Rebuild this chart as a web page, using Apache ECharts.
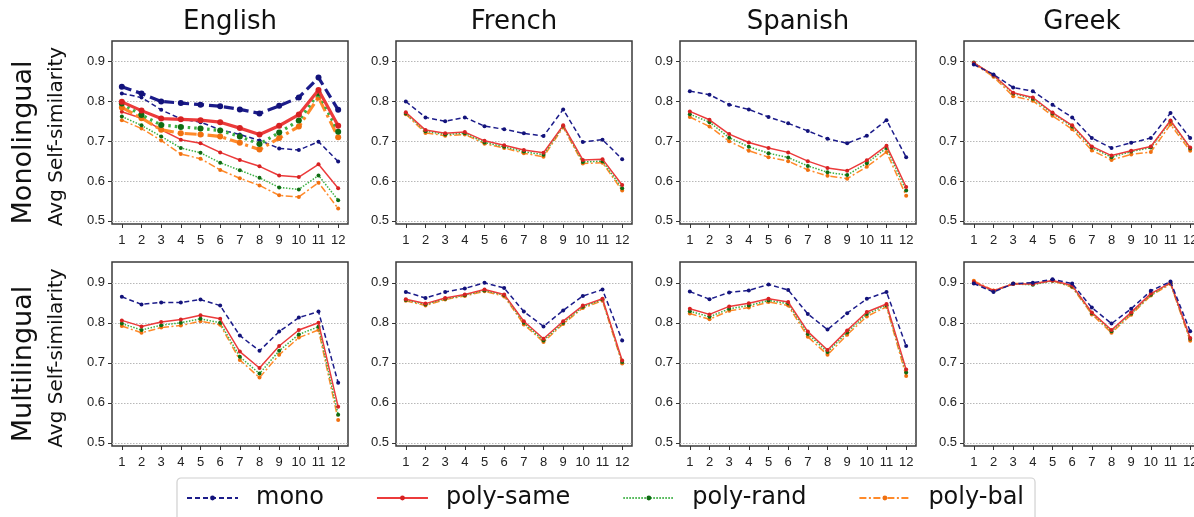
<!DOCTYPE html>
<html>
<head>
<meta charset="utf-8">
<script src="https://cdn.jsdelivr.net/npm/echarts@6/dist/echarts.min.js"></script>
<style>
html,body{margin:0;padding:0;background:#fff;}
#chart{width:1194px;height:517px;}
</style>
</head>
<body>
<div id="chart"></div>
<script>
// ---------- data ----------
const layers = ['1','2','3','4','5','6','7','8','9','10','11','12'];
const yTickValues = [0.5, 0.6, 0.7, 0.8, 0.9];
const languages = ['English', 'French', 'Spanish', 'Greek'];
const rowLabels = ['Monolingual', 'Multilingual'];
const yAxisTitle = 'Avg Self-similarity';
const seriesNames = ['mono', 'poly-same', 'poly-rand', 'poly-bal'];

// Monolingual row
const monoEnglish_mono     = [0.820,0.810,0.779,0.756,0.748,0.729,0.717,0.702,0.682,0.678,0.699,0.649];
const monoEnglish_polySame = [0.774,0.758,0.729,0.704,0.695,0.672,0.653,0.637,0.614,0.610,0.642,0.582];
const monoEnglish_polyRand = [0.762,0.740,0.712,0.683,0.671,0.646,0.627,0.608,0.584,0.579,0.614,0.552];
const monoEnglish_polyBal  = [0.753,0.732,0.702,0.668,0.656,0.628,0.607,0.589,0.564,0.560,0.596,0.531];
// English monolingual, second (bold) set of lines
const monoEnglishBold_mono     = [0.837,0.820,0.800,0.796,0.792,0.788,0.780,0.770,0.789,0.810,0.860,0.779];
const monoEnglishBold_polySame = [0.799,0.777,0.757,0.755,0.753,0.748,0.733,0.717,0.739,0.767,0.829,0.739];
const monoEnglishBold_polyRand = [0.795,0.766,0.741,0.736,0.732,0.727,0.712,0.693,0.722,0.752,0.821,0.724];
const monoEnglishBold_polyBal  = [0.785,0.758,0.729,0.720,0.717,0.712,0.696,0.679,0.708,0.737,0.810,0.710];

const monoFrench_mono     = [0.800,0.760,0.750,0.760,0.738,0.730,0.720,0.713,0.780,0.698,0.704,0.655];
const monoFrench_polySame = [0.773,0.728,0.720,0.723,0.701,0.690,0.678,0.671,0.740,0.653,0.655,0.590];
const monoFrench_polyRand = [0.770,0.725,0.717,0.720,0.697,0.686,0.674,0.666,0.738,0.648,0.650,0.582];
const monoFrench_polyBal  = [0.768,0.721,0.714,0.717,0.694,0.683,0.670,0.661,0.735,0.644,0.646,0.576];

const monoSpanish_mono     = [0.826,0.817,0.792,0.780,0.761,0.745,0.726,0.706,0.695,0.714,0.753,0.660];
const monoSpanish_polySame = [0.775,0.754,0.718,0.697,0.683,0.672,0.650,0.633,0.626,0.652,0.689,0.585];
const monoSpanish_polyRand = [0.768,0.748,0.709,0.686,0.670,0.659,0.638,0.622,0.615,0.645,0.683,0.576];
const monoSpanish_polyBal  = [0.761,0.737,0.700,0.676,0.660,0.650,0.628,0.613,0.606,0.636,0.673,0.563];

const monoGreek_mono     = [0.893,0.868,0.835,0.826,0.792,0.760,0.708,0.683,0.696,0.708,0.771,0.708];
const monoGreek_polySame = [0.897,0.866,0.822,0.810,0.772,0.740,0.687,0.664,0.676,0.687,0.752,0.684];
const monoGreek_polyRand = [0.898,0.865,0.820,0.807,0.770,0.737,0.684,0.660,0.674,0.684,0.750,0.682];
const monoGreek_polyBal  = [0.895,0.862,0.813,0.802,0.764,0.730,0.677,0.653,0.667,0.673,0.742,0.676];

// Multilingual row
const multiEnglish_mono     = [0.865,0.846,0.851,0.851,0.858,0.843,0.768,0.730,0.778,0.813,0.828,0.650];
const multiEnglish_polySame = [0.806,0.791,0.802,0.808,0.819,0.810,0.728,0.687,0.742,0.782,0.800,0.590];
const multiEnglish_polyRand = [0.798,0.782,0.794,0.800,0.810,0.800,0.715,0.673,0.730,0.771,0.790,0.570];
const multiEnglish_polyBal  = [0.792,0.775,0.788,0.793,0.804,0.795,0.707,0.663,0.720,0.763,0.782,0.557];

const multiFrench_mono     = [0.877,0.862,0.877,0.886,0.900,0.887,0.828,0.791,0.831,0.867,0.883,0.756];
const multiFrench_polySame = [0.859,0.848,0.862,0.871,0.883,0.871,0.804,0.760,0.804,0.843,0.860,0.706];
const multiFrench_polyRand = [0.857,0.846,0.860,0.869,0.881,0.869,0.800,0.756,0.800,0.840,0.858,0.702];
const multiFrench_polyBal  = [0.855,0.843,0.858,0.867,0.879,0.866,0.796,0.752,0.797,0.837,0.855,0.698];

const multiSpanish_mono     = [0.878,0.859,0.876,0.881,0.896,0.882,0.822,0.783,0.824,0.860,0.877,0.742];
const multiSpanish_polySame = [0.835,0.821,0.841,0.849,0.860,0.852,0.778,0.732,0.781,0.827,0.847,0.683];
const multiSpanish_polyRand = [0.829,0.815,0.835,0.843,0.856,0.848,0.772,0.727,0.776,0.822,0.844,0.676];
const multiSpanish_polyBal  = [0.823,0.809,0.830,0.838,0.852,0.843,0.765,0.720,0.770,0.816,0.840,0.667];

const multiGreek_mono     = [0.898,0.877,0.898,0.900,0.909,0.898,0.838,0.798,0.835,0.880,0.903,0.779];
const multiGreek_polySame = [0.902,0.880,0.897,0.897,0.906,0.893,0.826,0.782,0.826,0.873,0.900,0.762];
const multiGreek_polyRand = [0.900,0.879,0.897,0.895,0.905,0.891,0.824,0.779,0.823,0.870,0.899,0.760];
const multiGreek_polyBal  = [0.905,0.881,0.898,0.898,0.905,0.889,0.821,0.775,0.820,0.868,0.897,0.755];

// ---------- layout / style ----------
const panels = [
  [[monoEnglish_mono, monoEnglish_polySame, monoEnglish_polyRand, monoEnglish_polyBal],
   [monoFrench_mono, monoFrench_polySame, monoFrench_polyRand, monoFrench_polyBal],
   [monoSpanish_mono, monoSpanish_polySame, monoSpanish_polyRand, monoSpanish_polyBal],
   [monoGreek_mono, monoGreek_polySame, monoGreek_polyRand, monoGreek_polyBal]],
  [[multiEnglish_mono, multiEnglish_polySame, multiEnglish_polyRand, multiEnglish_polyBal],
   [multiFrench_mono, multiFrench_polySame, multiFrench_polyRand, multiFrench_polyBal],
   [multiSpanish_mono, multiSpanish_polySame, multiSpanish_polyRand, multiSpanish_polyBal],
   [multiGreek_mono, multiGreek_polySame, multiGreek_polyRand, multiGreek_polyBal]]
];
const boldEnglish = [monoEnglishBold_mono, monoEnglishBold_polySame, monoEnglishBold_polyRand, monoEnglishBold_polyBal];

const colLeft = [112, 396, 680, 964];
const plotW = 236;
const rowTop = [41, 262];
const plotH = [183, 184];

const styles = [
  {line: '#1c1c8a', sym: '#12127a', type: [5, 3]},
  {line: '#ec3b3b', sym: '#d62222', type: 'solid'},
  {line: '#3cb043', sym: '#0f6b12', type: [1.5, 1.5]},
  {line: '#ff8a2a', sym: '#f07010', type: [7, 2.5, 2, 2.5]}
];

const grids = [], xAxes = [], yAxes = [], series = [];
let gi = 0;
for (let r = 0; r < 2; r++) {
  for (let c = 0; c < 4; c++) {
    grids.push({left: colLeft[c], top: rowTop[r], width: plotW, height: plotH[r],
      outerBoundsMode: 'none', containLabel: false,
      show: true, borderColor: '#3a3a3a', borderWidth: 1.5, backgroundColor: 'transparent'});
    xAxes.push({type: 'category', gridIndex: gi, data: layers, boundaryGap: true,
      axisLine: {show: false},
      axisTick: {show: true, alignWithLabel: true, length: 4, lineStyle: {color: '#333'}},
      axisLabel: {color: '#222', fontSize: 13, fontFamily: 'Liberation Sans', margin: 10, interval: 0},
      splitLine: {show: false}});
    yAxes.push({type: 'value', gridIndex: gi, min: 0.492, max: 0.952,
      axisLine: {show: false},
      axisTick: {show: true, length: 4, customValues: yTickValues, lineStyle: {color: '#333'}},
      axisLabel: {color: '#222', fontSize: 13, fontFamily: 'Liberation Sans', margin: 7,
        customValues: yTickValues, formatter: v => v.toFixed(1)},
      splitLine: {show: true, lineStyle: {color: '#b8b8b8', type: [1.5, 1.5], width: 1}}});
    const sets = panels[r][c];
    for (let s = 0; s < 4; s++) {
      series.push({name: seriesNames[s], type: 'line', xAxisIndex: gi, yAxisIndex: gi,
        data: sets[s], symbol: 'circle', symbolSize: 4, showSymbol: true,
        lineStyle: {color: styles[s].line, width: 1.5, type: styles[s].type},
        itemStyle: {color: styles[s].sym, borderWidth: 0},
        z: 10 - s, silent: true});
    }
    gi++;
  }
}
// bold set in English monolingual panel
for (let s = 0; s < 4; s++) {
  series.push({name: seriesNames[s], type: 'line', xAxisIndex: 0, yAxisIndex: 0,
    data: boldEnglish[s], symbol: 'circle', symbolSize: 6,
    lineStyle: {color: styles[s].line, width: 3.2,
      type: s === 0 ? [10, 5] : s === 2 ? [2.5, 4] : s === 3 ? [12, 4, 3, 4] : 'solid'},
    itemStyle: {color: styles[s].sym, borderWidth: 0},
    z: 20 - s, silent: true});
}

const graphics = [];
languages.forEach((t, c) => {
  graphics.push({type: 'text', x: colLeft[c] + plotW / 2, y: 22,
    style: {text: t, font: '26px "DejaVu Sans"', fill: '#111', textAlign: 'center', textVerticalAlign: 'middle'}});
});
rowLabels.forEach((t, r) => {
  const cy = rowTop[r] + plotH[r] / 2;
  graphics.push({type: 'text', x: 24, y: cy + 10, rotation: Math.PI / 2,
    style: {text: t, font: '27px "DejaVu Sans"', fill: '#111', textAlign: 'center', textVerticalAlign: 'middle'}});
  graphics.push({type: 'text', x: 57, y: cy + 4, rotation: Math.PI / 2,
    style: {text: yAxisTitle, font: '20px "DejaVu Sans"', fill: '#111', textAlign: 'center', textVerticalAlign: 'middle'}});
});

const chart = echarts.init(document.getElementById('chart'), null, {renderer: 'canvas'});
chart.setOption({
  animation: false,
  backgroundColor: '#fff',
  grid: grids, xAxis: xAxes, yAxis: yAxes, series: series,
  graphic: graphics,
  legend: {data: seriesNames, left: 177, top: 478, orient: 'horizontal',
    itemWidth: 51, itemHeight: 6, itemGap: 52,
    padding: [8, 11, 30, 9],
    borderColor: '#d0d0d0', borderWidth: 1.2, borderRadius: 4,
    textStyle: {fontSize: 24, fontFamily: 'DejaVu Sans', color: '#111', padding: [0, 0, 0, 13]},
    selectedMode: false}
});
</script>
</body>
</html>
